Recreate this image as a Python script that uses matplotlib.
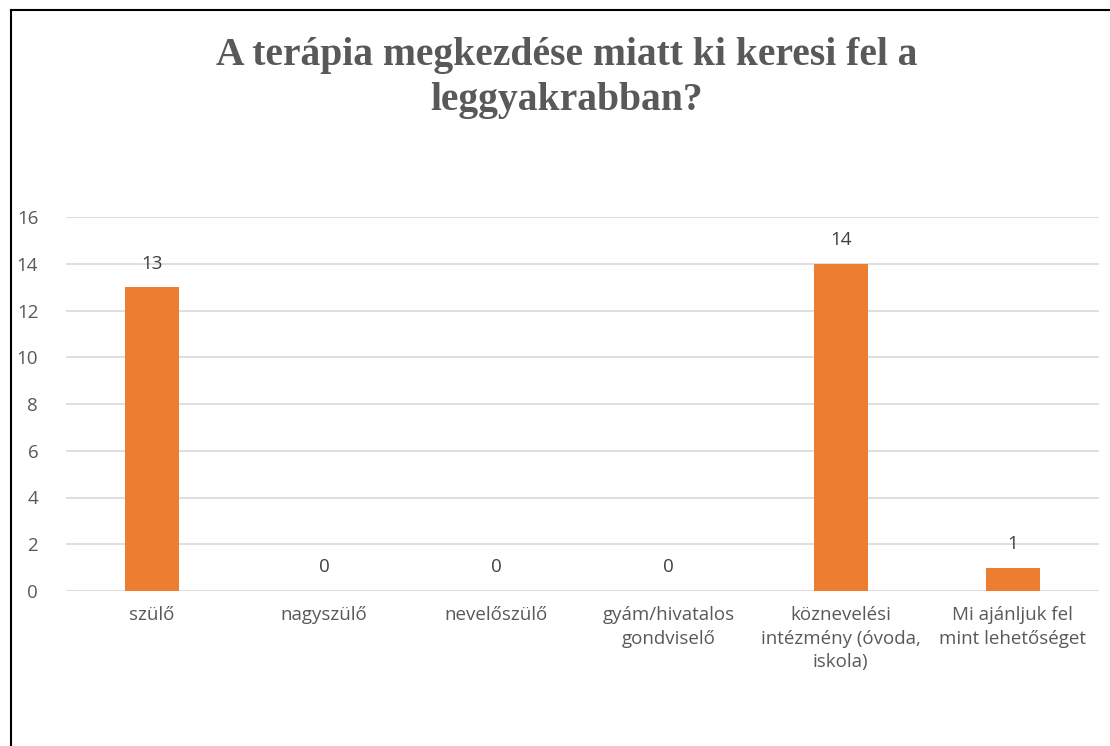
import matplotlib.pyplot as plt
from matplotlib.lines import Line2D

categories = [
    "szülő",
    "nagyszülő",
    "nevelőszülő",
    "gyám/hivatalos\ngondviselő",
    "köznevelési\nintézmény (óvoda,\niskola)",
    "Mi ajánljuk fel\nmint lehetőséget",
]
values = [13, 0, 0, 0, 14, 1]
yticks = [0, 2, 4, 6, 8, 10, 12, 14, 16]

TEXT = "#595959"
ORANGE = "#ED7D31"

plt.rcParams["font.family"] = ["Open Sans", "DejaVu Sans"]

fig = plt.figure(figsize=(11.1, 7.46), dpi=100)
W, H = 1110, 746
ax = fig.add_axes([66 / W, 1 - 591 / H, (1099 - 66) / W, (591 - 217) / H])

x = range(len(categories))
bars = ax.bar(x, values, width=0.314, color=ORANGE, zorder=3)

ax.set_ylim(0, 16)
ax.set_xlim(-0.5, len(categories) - 0.5)
ax.set_yticks(yticks)
ax.set_xticks(list(x))
ax.set_xticklabels(categories, fontsize=14, color=TEXT, linespacing=1.38)
ax.tick_params(axis="both", length=0, labelsize=13.5, labelcolor=TEXT)
ax.tick_params(axis="y", pad=20)
ax.tick_params(axis="x", pad=11)

ax.grid(axis="y", color="#D9D9D9", linewidth=1.2, zorder=0)
for s in ax.spines.values():
    s.set_visible(False)

for xi, v in zip(x, values):
    ax.annotate(str(v), (xi, v), xytext=(0, 17), textcoords="offset points",
                ha="center", va="center", fontsize=13.5, color="#404040")

fig.text(567 / W, 1 - 78 / H, "A terápia megkezdése miatt ki keresi fel a\nleggyakrabban?",
         ha="center", va="center", fontsize=28.5, fontweight="bold", color=TEXT,
         family=["Liberation Serif", "DejaVu Serif"], linespacing=1.27)

# chart frame (left and top edges visible)
fig.add_artist(Line2D([10.5 / W, 10.5 / W], [0, 1 - 10 / H], color="black", linewidth=1.5,
                      transform=fig.transFigure))
fig.add_artist(Line2D([10.5 / W, 1], [1 - 10 / H, 1 - 10 / H], color="black", linewidth=1.5,
                      transform=fig.transFigure))

fig.savefig("out.png", dpi=100)
